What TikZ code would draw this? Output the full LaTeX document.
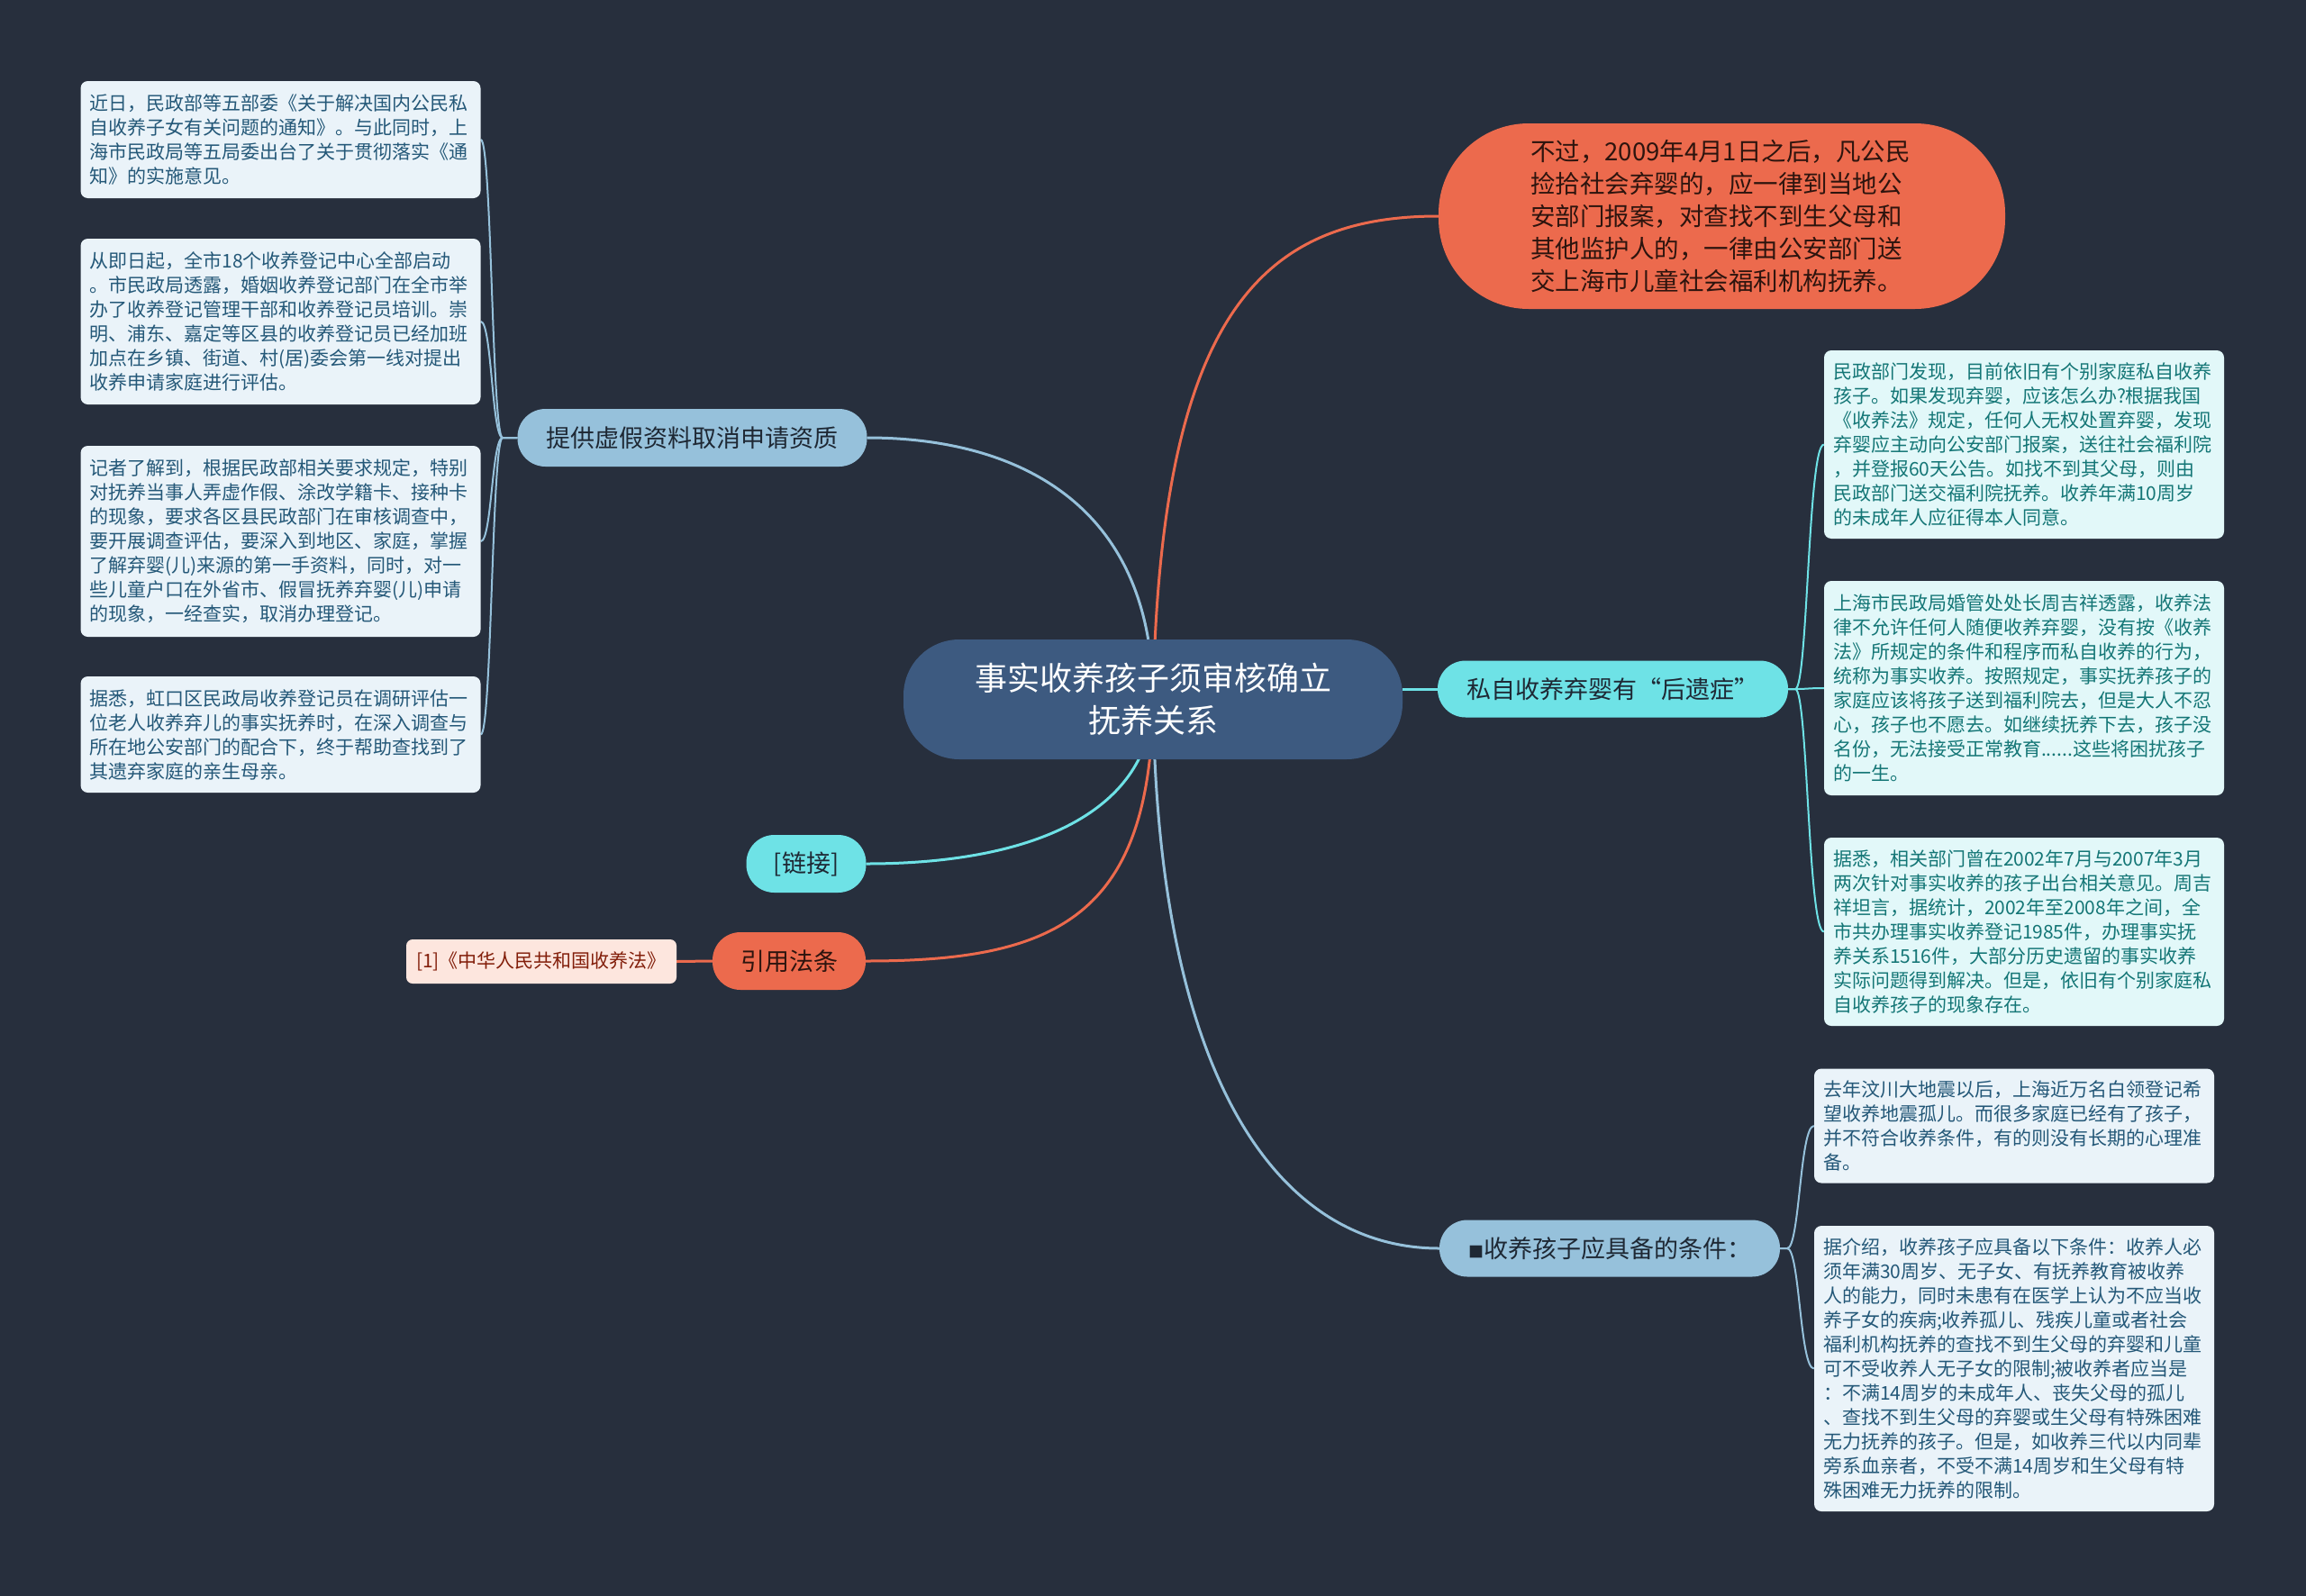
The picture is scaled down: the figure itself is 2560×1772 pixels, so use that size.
\documentclass[tikz,border=0pt]{standalone}
\usepackage{fontspec}
\setmainfont{Noto Sans CJK SC}
\pgfdeclarelayer{bgl}
\pgfdeclarelayer{edgel}
\pgfsetlayers{bgl,edgel,main}
\definecolor{bgc}{RGB}{39,47,61}
\definecolor{ctr}{RGB}{61,90,128}
\definecolor{org}{RGB}{236,106,77}
\definecolor{cyn}{RGB}{110,226,230}
\definecolor{lbl}{RGB}{150,193,219}
\definecolor{leafbfill}{RGB}{234,243,249}
\definecolor{leafcfill}{RGB}{226,248,249}
\definecolor{leafbtext}{RGB}{36,88,120}
\definecolor{leafctext}{RGB}{20,118,118}
\definecolor{pinkfill}{RGB}{253,230,222}
\definecolor{pinktext}{RGB}{130,30,10}
\definecolor{darktext}{RGB}{30,40,52}
\definecolor{orgtext}{RGB}{45,20,14}
\begin{document}
\begin{tikzpicture}[x=1pt,y=-1pt,
  leafbox/.style={rectangle, rounded corners=8, inner sep=0pt, text width=424, align=left,
    minimum width=444, font=\fontsize{21}{27}\selectfont},
  leafB/.style={leafbox, fill=leafbfill, text=leafbtext},
  leafC/.style={leafbox, fill=leafcfill, text=leafctext},
  pill/.style={rectangle, rounded corners=31, inner xsep=0pt, minimum height=63,
    font=\fontsize{27}{34}\selectfont},
  edgeO/.style={draw=org, line width=3},
  edgeC/.style={draw=cyn, line width=3},
  edgeB/.style={draw=lbl, line width=3},
  linkB/.style={draw=lbl, line width=2},
  linkC/.style={draw=cyn, line width=2}]
\begin{pgfonlayer}{bgl}
\fill[bgc] (0,0) rectangle (2560,1772);
\end{pgfonlayer}
\useasboundingbox (0,0) rectangle (2560,1772);

% central node
\node[rectangle, rounded corners=62, fill=ctr, text=white, minimum width=554, minimum height=133,
  align=center, font=\fontsize{36}{47}\selectfont] (c) at (1280,776.5)
  {事实收养孩子须审核确立\\抚养关系};

% first level
\node[rectangle, rounded corners=100, fill=org, text=orgtext, minimum width=629, minimum height=206,
  text width=425, align=left, font=\fontsize{27.5}{36}\selectfont] (ot) at (1911.5,240)
  {不过，2009年4月1日之后，凡公民\\捡拾社会弃婴的，应一律到当地公\\安部门报案，对查找不到生父母和\\其他监护人的，一律由公安部门送\\交上海市儿童社会福利机构抚养。};
\node[pill, fill=cyn, text=darktext, minimum width=389] (sz) at (1790.5,765) {私自收养弃婴有“后遗症”};
\node[pill, fill=lbl, text=darktext, minimum width=378] (sy) at (1787,1386) {{\fontsize{17}{20}\selectfont ■}收养孩子应具备的条件：};
\node[pill, fill=lbl, text=darktext, minimum width=388, minimum height=64] (tg) at (768.5,486) {提供虚假资料取消申请资质};
\node[pill, fill=cyn, text=darktext, minimum width=133, minimum height=64] (lk) at (895,959) {[链接]};
\node[pill, fill=org, text=orgtext, minimum width=170, minimum height=64] (yy) at (876,1067) {引用法条};
\node[rectangle, rounded corners=7, fill=pinkfill, text=pinktext, minimum width=300, minimum height=49,
  inner xsep=0pt, font=\fontsize{21}{27}\selectfont] (law) at (601,1067.5) {[1]《中华人民共和国收养法》};

% left leaves
\node[leafB, minimum height=130] (l1) at (311.5,155)
  {近日，民政部等五部委《关于解决国内公民私\\自收养子女有关问题的通知》。与此同时，上\\海市民政局等五局委出台了关于贯彻落实《通\\知》的实施意见。};
\node[leafB, minimum height=184] (l2) at (311.5,357)
  {从即日起，全市18个收养登记中心全部启动\\。市民政局透露，婚姻收养登记部门在全市举\\办了收养登记管理干部和收养登记员培训。崇\\明、浦东、嘉定等区县的收养登记员已经加班\\加点在乡镇、街道、村(居)委会第一线对提出\\收养申请家庭进行评估。};
\node[leafB, minimum height=212] (l3) at (311.5,601)
  {记者了解到，根据民政部相关要求规定，特别\\对抚养当事人弄虚作假、涂改学籍卡、接种卡\\的现象，要求各区县民政部门在审核调查中，\\要开展调查评估，要深入到地区、家庭，掌握\\了解弃婴(儿)来源的第一手资料，同时，对一\\些儿童户口在外省市、假冒抚养弃婴(儿)申请\\的现象，一经查实，取消办理登记。};
\node[leafB, minimum height=129] (l4) at (311.5,815.5)
  {据悉，虹口区民政局收养登记员在调研评估一\\位老人收养弃儿的事实抚养时，在深入调查与\\所在地公安部门的配合下，终于帮助查找到了\\其遗弃家庭的亲生母亲。};

% right leaves (cyan)
\node[leafC, minimum height=209] (r1) at (2247,493.5)
  {民政部门发现，目前依旧有个别家庭私自收养\\孩子。如果发现弃婴，应该怎么办?根据我国\\《收养法》规定，任何人无权处置弃婴，发现\\弃婴应主动向公安部门报案，送往社会福利院\\，并登报60天公告。如找不到其父母，则由\\民政部门送交福利院抚养。收养年满10周岁\\的未成年人应征得本人同意。};
\node[leafC, minimum height=238] (r2) at (2247,764)
  {上海市民政局婚管处处长周吉祥透露，收养法\\律不允许任何人随便收养弃婴，没有按《收养\\法》所规定的条件和程序而私自收养的行为，\\统称为事实收养。按照规定，事实抚养孩子的\\家庭应该将孩子送到福利院去，但是大人不忍\\心，孩子也不愿去。如继续抚养下去，孩子没\\名份，无法接受正常教育......这些将困扰孩子\\的一生。};
\node[leafC, minimum height=209] (r3) at (2247,1034.5)
  {据悉，相关部门曾在2002年7月与2007年3月\\两次针对事实收养的孩子出台相关意见。周吉\\祥坦言，据统计，2002年至2008年之间，全\\市共办理事实收养登记1985件，办理事实抚\\养关系1516件，大部分历史遗留的事实收养\\实际问题得到解决。但是，依旧有个别家庭私\\自收养孩子的现象存在。};

% right leaves (blue)
\node[leafB, minimum height=127] (r4) at (2236,1250)
  {去年汶川大地震以后，上海近万名白领登记希\\望收养地震孤儿。而很多家庭已经有了孩子，\\并不符合收养条件，有的则没有长期的心理准\\备。};
\node[leafB, minimum height=317] (r5) at (2236,1519.5)
  {据介绍，收养孩子应具备以下条件：收养人必\\须年满30周岁、无子女、有抚养教育被收养\\人的能力，同时未患有在医学上认为不应当收\\养子女的疾病;收养孤儿、残疾儿童或者社会\\福利机构抚养的查找不到生父母的弃婴和儿童\\可不受收养人无子女的限制;被收养者应当是\\：不满14周岁的未成年人、丧失父母的孤儿\\、查找不到生父母的弃婴或生父母有特殊困难\\无力抚养的孩子。但是，如收养三代以内同辈\\旁系血亲者，不受不满14周岁和生父母有特\\殊困难无力抚养的限制。};

\begin{pgfonlayer}{edgel}
% main branches
\draw[edgeO] (c.center) .. controls (1288,350) and (1400,240) .. (ot.west);
\draw[edgeB] (tg.east) .. controls (1130,486) and (1280,560) .. (c.center);
\draw[edgeC] (c.east |- sz.west) -- (sz.west);
\draw[edgeC] (c.center) .. controls (1278,900) and (1150,959) .. (lk.east);
\draw[edgeO] (c.center) .. controls (1278,1020) and (1170,1067) .. (yy.east);
\draw[edgeB] (c.center) .. controls (1285,1200) and (1420,1386) .. (sy.west);
\draw[edgeO] (yy.west) -- (law.east);
% left leaf links
\foreach \n in {l1,l2,l3,l4}{
  \draw[linkB] (tg.west) -- (558,486) .. controls (546,486) and (546,0 |- \n.east) .. (\n.east);
}
% right leaf links
\foreach \n in {r1,r2,r3}{
  \draw[linkC] (sz.east) -- (1993,765) .. controls (2007,765) and (2007,0 |- \n.west) .. (\n.west);
}
\foreach \n in {r4,r5}{
  \draw[linkB] (sy.east) -- (1984,1386) .. controls (1998,1386) and (1998,0 |- \n.west) .. (\n.west);
}
\end{pgfonlayer}
\end{tikzpicture}
\end{document}
